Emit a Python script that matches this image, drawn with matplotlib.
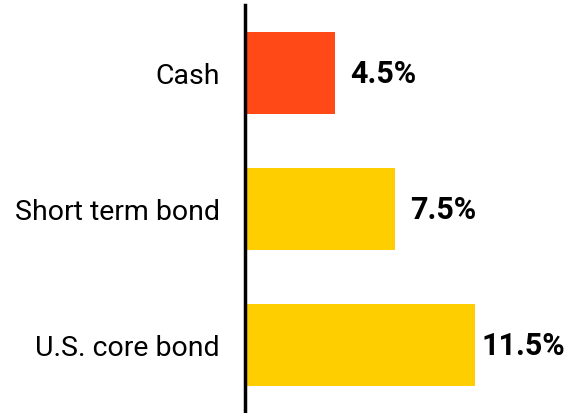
import matplotlib

matplotlib.use("Agg")
import matplotlib.pyplot as plt

categories = ["Cash", "Short term bond", "U.S. core bond"]
values = [4.5, 7.5, 11.5]
colors = ["#FF4A17", "#FFCE00", "#FFCE00"]
value_labels = ["4.5%", "7.5%", "11.5%"]

plt.rcParams["font.family"] = ["Roboto", "DejaVu Sans"]

figure = plt.figure(figsize=(5.67, 4.14), dpi=100)
axis = figure.add_axes([245 / 567, 0, 322 / 567, 408 / 414])

positions = list(range(len(categories)))
axis.barh(positions, values, color=colors, height=0.6)
axis.set_xlim(0, 16.1)
axis.set_ylim(2.5, -0.5)

for pos, value, label in zip(positions, values, value_labels):
    axis.annotate(
        label, (value, pos), xytext=(35, 0), textcoords="offset points",
        ha="center", va="center", fontsize=22, fontweight="bold", color="black",
    )

axis.set_yticks(positions, categories, fontsize=20.5)
axis.tick_params(axis="y", length=0, pad=18)
axis.set_xticks([])
for side in ("top", "right", "bottom"):
    axis.spines[side].set_visible(False)
axis.spines["left"].set_linewidth(2.5)
axis.spines["left"].set_color("black")

figure.savefig("out.png", dpi=100)
